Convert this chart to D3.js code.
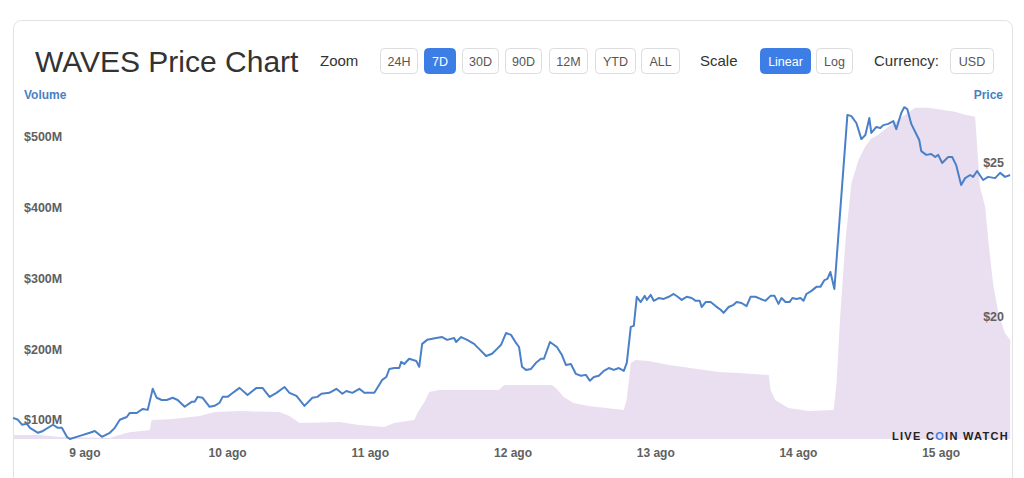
<!DOCTYPE html>
<html><head><meta charset="utf-8">
<script src="https://cdn.jsdelivr.net/npm/d3@7"></script>
<style>
html,body{margin:0;padding:0;background:#fff;}
svg{display:block;font-family:"Liberation Sans",Arial,sans-serif;}
</style></head>
<body>
<svg id="c" width="1024" height="478"></svg>
<script>
// ---- data ----
const startTime = new Date(2021, 7, 8, 12, 0);
const endTime = new Date(2021, 7, 15, 12, 0);
const dayTicks = [9, 10, 11, 12, 13, 14, 15];
const zoomButtons = ["24H", "7D", "30D", "90D", "12M", "YTD", "ALL"];
const scaleButtons = ["Linear", "Log"];
const volumeTicks = [100, 200, 300, 400, 500];       // $M
const priceTicks = [20, 25];                         // $
// hours since start, price in USD
const priceHours = [0,0.84,1.51,2.35,2.85,4.2,5.04,6.71,7.55,8.22,9.06,9.57,11.25,12.92,13.76,14.94,16.28,17.12,17.96,19.13,19.64,20.81,21.82,22.66,23.5,24.17,25.01,25.85,26.85,27.69,28.87,30.04,30.55,31.05,31.89,33.06,33.9,34.74,35.25,36.09,36.76,38.1,39.44,40.95,41.96,43.14,44.31,45.65,46.49,47.67,49.01,50.35,51.19,51.86,53.21,54.38,55.39,56.06,57.07,58.24,59.08,60.76,61.6,62.1,62.77,63.28,64.12,64.95,65.29,65.79,66.63,67.81,68.31,68.81,69.65,71.16,72.17,73.01,74.19,74.52,75.36,76.37,77.54,78.38,79.56,80.56,81.4,82.07,82.91,83.75,84.59,85.1,85.6,86.27,87.11,87.95,88.79,89.29,90.3,91.47,92.31,92.98,93.82,94.66,95.5,96.34,97.01,97.68,98.52,99.36,100.2,101.04,101.88,102.72,103.22,103.89,104.4,104.9,105.57,106.24,106.58,107.25,107.75,108.59,109.43,110.27,111.11,111.78,112.45,113.29,114.13,114.8,115.48,115.81,116.48,117.32,118.16,119,119.5,120.34,121.18,121.69,122.52,123.36,124.03,124.87,125.71,126.55,127.39,128.06,128.73,129.24,129.91,130.58,131.08,131.76,132.43,132.93,133.43,134.27,135.11,135.78,136.46,136.96,137.46,138.13,140.32,140.99,141.83,142.67,143.34,144.01,144.34,145.18,145.85,146.36,147.2,148.04,148.54,149.38,149.88,150.39,151.06,151.73,152.4,152.74,153.58,154.42,155.09,155.59,156.26,157.27,157.94,158.61,159.45,160.12,160.96,161.46,162.13,163.14,163.98,165.16,166,166.84,167.68];
const priceValues = [16.74,16.68,16.52,16.55,16.42,16.26,16.32,16.52,16.42,16.42,16.13,16.06,16.16,16.26,16.32,16.13,16.26,16.42,16.68,16.77,16.9,16.9,17.03,17,17.68,17.39,17.32,17.32,17.39,17.32,17.1,17.26,17.26,17.42,17.39,17.1,17.13,17.23,17.42,17.42,17.52,17.71,17.48,17.71,17.71,17.42,17.55,17.74,17.55,17.45,17.13,17.39,17.42,17.52,17.55,17.68,17.52,17.61,17.55,17.68,17.55,17.55,17.81,17.97,18.06,18.32,18.35,18.35,18.55,18.48,18.65,18.58,18.39,19.13,19.26,19.32,19.35,19.26,19.32,19.19,19.35,19.26,19.13,18.97,18.74,18.81,18.97,19.1,19.48,19.42,19.16,19.03,18.39,18.29,18.32,18.52,18.65,18.65,19.19,19.03,18.77,18.45,18.48,18.16,18.1,18.13,17.94,18.06,18.1,18.26,18.35,18.29,18.35,18.26,18.52,19.68,19.71,20.65,20.48,20.68,20.55,20.71,20.52,20.61,20.58,20.65,20.74,20.65,20.55,20.65,20.61,20.52,20.52,20.32,20.48,20.48,20.35,20.23,20.13,20.32,20.39,20.48,20.45,20.35,20.65,20.65,20.58,20.52,20.68,20.68,20.42,20.61,20.48,20.48,20.61,20.58,20.61,20.52,20.74,20.84,20.97,20.97,21.19,21.23,21.45,20.9,26.52,26.48,26.26,25.74,25.87,26.42,25.94,26.13,26.1,26.19,26.23,26.32,26.06,26.58,26.77,26.71,26.23,25.97,25.71,25.35,25.23,25.26,25.16,25.23,24.97,25.16,25.16,24.9,24.26,24.48,24.58,24.52,24.71,24.42,24.52,24.48,24.65,24.52,24.58];
// hours since start, 24h volume in $M
const volumeHours = [0,4.5,7.9,16.3,17.1,19.6,23.0,23.3,26.4,31.4,33.9,38.1,44.8,46.5,48.2,54.9,58.2,62.4,64.1,67.5,68.0,69.2,70.0,71.7,81.7,82.6,90.6,91.3,92.6,94.3,96.8,102.7,103.2,103.9,104.7,106.9,110.3,118.7,122.0,127.1,127.4,128.2,130.4,133.8,138.0,138.5,139.1,140.0,141.0,142.2,143.3,144.3,145.5,147.2,148.9,150.5,151.7,153.9,156.1,158.4,160.1,161.8,162.6,163.5,164.0,164.8,165.7,166.8,167.7];
const volumeValues = [78.5,78.5,75.7,74.3,77,82.7,85.6,99.7,101,105.4,111,112.5,111,105.4,95.5,96.9,92.7,89.8,95.5,99.7,109.6,125.2,139.3,142.1,142.1,149.2,149.2,145,132.2,123.8,119.5,113.9,128,180.3,184.6,183.2,177.5,167.6,166.2,163.4,142.1,128,116.7,112.5,113.9,152.1,245.4,354.3,434.9,467.5,485.9,497.2,502.8,514.1,524,533.9,541,541,538.2,535.4,531.1,528.3,429.3,401,354.3,293.5,251.1,222.8,212.9];

const H = 3600e3;
const price = priceHours.map((h, i) => ({ t: new Date(+startTime + h * H), v: priceValues[i] }));
const volume = volumeHours.map((h, i) => ({ t: new Date(+startTime + h * H), v: volumeValues[i] }));

// ---- layout ----
const svg = d3.select("#c");
const plotL = 13, plotR = 1012, plotT = 105, plotB = 439;
const x = d3.scaleTime().domain([startTime, endTime]).range([plotL, plotR]);
const yVol = d3.scaleLinear().domain([73, 545]).range([plotB, plotT]);
const yPrice = d3.scaleLinear().domain([16.06, 26.84]).range([plotB, plotT]);

// card
svg.append("rect").attr("x", 13.5).attr("y", 20.5).attr("width", 999).attr("height", 480)
  .attr("rx", 8).attr("fill", "#fff").attr("stroke", "#e2e2e2");

// header
svg.append("text").attr("x", 35).attr("y", 72).attr("font-size", 30).attr("fill", "#333").text("WAVES Price Chart");
const lab = (txt, xx) => svg.append("text").attr("x", xx).attr("y", 66).attr("font-size", 15).attr("fill", "#333").text(txt);
lab("Zoom", 320); lab("Scale", 700); lab("Currency:", 874);
function button(txt, x0, x1, active) {
  const g = svg.append("g");
  g.append("rect").attr("x", x0 + 0.5).attr("y", 48.5).attr("width", x1 - x0).attr("height", 25).attr("rx", 4)
    .attr("fill", active ? "#3c7ee6" : "#fff").attr("stroke", active ? "#3c7ee6" : "#dcdcdc");
  g.append("text").attr("x", (x0 + x1) / 2 + 0.5).attr("y", 65.5).attr("text-anchor", "middle")
    .attr("font-size", 12.5).attr("fill", active ? "#fff" : "#555").text(txt);
}
const zoomPos = [[380, 417], [424, 455], [462, 498], [505, 541], [549, 587], [595, 635], [641, 679]];
zoomButtons.forEach((b, i) => button(b, zoomPos[i][0], zoomPos[i][1], b === "7D"));
const scalePos = [[760, 810], [816, 852]];
scaleButtons.forEach((b, i) => button(b, scalePos[i][0], scalePos[i][1], b === "Linear"));
button("USD", 950, 993, false);

svg.append("text").attr("x", 24).attr("y", 99).attr("font-size", 12).attr("font-weight", "bold").attr("fill", "#4a7fc4").text("Volume");
svg.append("text").attr("x", 1003).attr("y", 99).attr("text-anchor", "end").attr("font-size", 12).attr("font-weight", "bold").attr("fill", "#4a7fc4").text("Price");

// volume area
svg.append("path").datum(volume)
  .attr("d", d3.area().x(d => x(d.t)).y0(plotB).y1(d => yVol(d.v)))
  .attr("fill", "#eadff0");

// axes
const gv = svg.append("g").attr("transform", "translate(21,0)")
  .call(d3.axisRight(yVol).tickValues(volumeTicks).tickSize(0).tickPadding(3).tickFormat(d => "$" + d + "M"));
const gp = svg.append("g").attr("transform", "translate(1004,0)")
  .call(d3.axisLeft(yPrice).tickValues(priceTicks).tickSize(0).tickPadding(0).tickFormat(d => "$" + d));
const gx = svg.append("g").attr("transform", `translate(0,${plotB})`)
  .call(d3.axisBottom(x).tickValues(dayTicks.map(d => new Date(2021, 7, d))).tickSize(0).tickPadding(9)
    .tickFormat(d => d.getDate() + " ago"));
[gv, gp, gx].forEach(g => {
  g.select(".domain").remove();
  g.selectAll("text").attr("font-family", "Liberation Sans, Arial, sans-serif").attr("font-weight", "bold").attr("fill", "#606060");
});
gv.selectAll("text").attr("font-size", 12.5);
gp.selectAll("text").attr("font-size", 12.5);
gx.selectAll("text").attr("font-size", 12);

// price line
svg.append("path").datum(price)
  .attr("d", d3.line().x(d => x(d.t)).y(d => yPrice(d.v)))
  .attr("fill", "none").attr("stroke", "#4a80c8").attr("stroke-width", 2).attr("stroke-linejoin", "round");

// watermark
const wm = svg.append("text").attr("x", 1009).attr("y", 440).attr("text-anchor", "end")
  .attr("font-size", 11).attr("font-weight", "bold").attr("fill", "#222").attr("letter-spacing", 1.3);
wm.append("tspan").text("LIVE C");
wm.append("tspan").attr("fill", "#3c7ee6").text("O");
wm.append("tspan").text("IN WATCH");
</script>
</body></html>
